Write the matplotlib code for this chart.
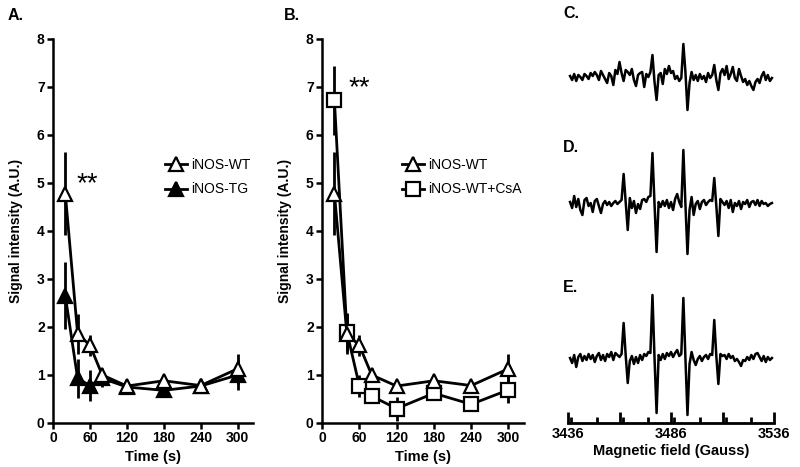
import numpy as np
import matplotlib
matplotlib.use("Agg")
import matplotlib.pyplot as plt
from matplotlib.ticker import MultipleLocator

plt.rcParams['font.family'] = ['Liberation Sans', 'DejaVu Sans']
plt.rcParams['font.weight'] = 'bold'
plt.rcParams['axes.linewidth'] = 1.8

# time points (s)
time = [20, 40, 60, 80, 120, 180, 240, 300]

# panel A / B
wt_mean = [4.78, 1.86, 1.62, 1.0, 0.77, 0.88, 0.78, 1.13]
wt_err = [0.87, 0.42, 0.22, 0.15, 0.12, 0.1, 0.1, 0.31]
tg_mean = [2.65, 0.93, 0.78, 0.93, 0.75, 0.68, 0.77, 1.0]
tg_err = [0.7, 0.4, 0.33, 0.18, 0.15, 0.08, 0.12, 0.32]
csa_mean = [6.72, 1.9, 0.78, 0.56, 0.3, 0.62, 0.39, 0.69]
csa_err = [0.72, 0.4, 0.23, 0.12, 0.25, 0.1, 0.1, 0.28]

# EPR spectra, field 3437..3535 G in 1 G steps, amplitude in arbitrary units
field = np.arange(3437, 3536)
spec_c = [1, -3, 3, -4, 2, 0, -3, 3, 1, -2, 4, 1, 5, 2, -3, 6, 2, -2, -6, 4,
          1, -8, 7, 3, 15, 4, -4, 7, 5, 2, 8, -3, -9, 2, 4, 5, -10, 3, 0, 5,
          22, -5, -23, 2, 4, -7, 8, 3, 11, 4, 6, -2, 1, -4, -1, 33, 5, -33, -6, 5,
          -3, 2, -4, 3, -2, 1, -5, 4, -1, 2, 12, -3, -13, 4, 8, 2, 11, -2, 3, 10,
          -1, -4, 8, 1, -5, -2, -8, -4, -9, -13, -5, -2, -6, 1, 5, -3, 2, -4, -1]
spec_d = [2, -4, 8, -3, 5, -6, -11, 4, 6, -2, 1, -8, 3, 5, -2, -9, 0, 3, -1, 2,
          -2, 1, 3, 0, 2, 4, 30, 2, -26, 6, -4, 3, -9, 0, -5, 4, 5, 2, 7, 8,
          51, 0, -48, 2, -3, 3, -2, 4, -4, 2, -6, 5, 10, 2, -3, 54, 0, -50, -6, 7,
          -11, 0, 3, -5, 2, 4, -1, 2, 4, 3, 26, -2, -32, 5, 2, -1, 3, -4, 4, -8,
          1, -2, 3, -5, 2, 0, 4, -3, 2, 3, -1, 4, -2, 3, 0, 1, -2, 0, 1]
spec_e = [0, -5, 3, -9, 1, 4, -3, 2, -2, 4, -1, 3, -4, 2, 5, -2, 3, -3, 4, 1,
          6, -2, 5, 3, 1, 4, 35, 3, -25, -3, 2, -6, 1, -5, 3, -2, 4, 2, 6, 5,
          63, 0, -55, 3, -2, 4, -1, 5, 2, 6, 1, 5, 8, 2, 4, 60, 0, -57, -6, 6,
          -2, -7, -1, 2, -3, 1, 3, -1, 4, 3, 38, 2, -26, 4, 2, 3, -1, 4, 0, 2,
          -3, -1, -4, -8, -2, -3, 1, -2, 3, -1, 4, 5, 1, -3, 2, -4, 1, -2, 0]
spec_offsets = [346, 219, 65]

fig = plt.figure(figsize=(8.0, 4.67), dpi=100)
W, H = 800.0, 467.0


def time_axes(left_px, right_px):
    ax = fig.add_axes([left_px / W, 1 - 423 / H, (right_px - left_px) / W, 384 / H])
    ax.set_xlim(0, 325)
    ax.set_ylim(0, 8)
    ax.set_xticks([0, 60, 120, 180, 240, 300])
    ax.yaxis.set_major_locator(MultipleLocator(1))
    ax.spines['top'].set_visible(False)
    ax.spines['right'].set_visible(False)
    ax.tick_params(direction='out', length=4, width=1.8, labelsize=10, pad=2)
    for lbl in ax.get_xticklabels() + ax.get_yticklabels():
        lbl.set_fontweight('bold')
    ax.set_xlabel('Time (s)', fontsize=10.5, fontweight='bold', labelpad=3)
    ax.set_ylabel('Signal intensity (A.U.)', fontsize=10, fontweight='bold', labelpad=10)
    return ax


def series(ax, mean, err, marker, fc, label, ms):
    ax.errorbar(time, mean, yerr=err, color='black', lw=2, elinewidth=2,
                capsize=0, marker=marker, markersize=ms, markerfacecolor=fc,
                markeredgecolor='black', markeredgewidth=1.6, label=label)


# panel A
axA = time_axes(53, 253)
series(axA, tg_mean, tg_err, '^', 'black', 'iNOS-TG', 10)
series(axA, wt_mean, wt_err, '^', 'white', 'iNOS-WT', 10)
h, l = axA.get_legend_handles_labels()
axA.legend([h[1], h[0]], [l[1], l[0]], loc='center left', bbox_to_anchor=(0.525, 0.64),
           frameon=False, handlelength=1.6, handletextpad=0.3, labelspacing=0.75,
           borderpad=0, prop={'size': 10, 'weight': 'normal'})
axA.text(39, 4.98, '**', fontsize=20, va='center', ha='left', fontweight='normal')

# panel B
axB = time_axes(322, 524)
series(axB, csa_mean, csa_err, 's', 'white', 'iNOS-WT+CsA', 9.5)
series(axB, wt_mean, wt_err, '^', 'white', 'iNOS-WT', 10)
h, l = axB.get_legend_handles_labels()
axB.legend([h[1], h[0]], [l[1], l[0]], loc='center left', bbox_to_anchor=(0.36, 0.64),
           frameon=False, handlelength=1.6, handletextpad=0.3, labelspacing=0.75,
           borderpad=0, prop={'size': 10, 'weight': 'normal'})
axB.text(43, 6.98, '**', fontsize=20, va='center', ha='left', fontweight='normal')

# panels C-E (spectra)
axS = fig.add_axes([568 / W, 1 - 423 / H, 206 / W, 385 / H])
for spec, off in zip([spec_c, spec_d, spec_e], spec_offsets):
    axS.plot(field, np.array(spec) + off, color='black', lw=1.8)
axS.set_xlim(3436, 3536)
axS.set_ylim(0, 385)
for s in ['top', 'right', 'left']:
    axS.spines[s].set_visible(False)
axS.spines['bottom'].set_linewidth(2)
axS.set_yticks([])
axS.set_xticks([3436, 3461, 3486, 3511, 3536])
axS.set_xticklabels(['3436', '', '3486', '', '3536'])
axS.xaxis.set_minor_locator(MultipleLocator(12.5))
axS.tick_params(axis='x', which='major', direction='in', length=8, width=2, labelsize=10.5, pad=3)
axS.tick_params(axis='x', which='minor', direction='in', length=4, width=2)
for lbl in axS.get_xticklabels():
    lbl.set_fontweight('bold')
axS.set_xlabel('Magnetic field (Gauss)', fontsize=10.5, fontweight='bold', labelpad=2)

# panel letters
for txt, x, y in [('A.', 8, 15), ('B.', 284, 15), ('C.', 563, 14), ('D.', 563, 148), ('E.', 563, 288)]:
    fig.text(x / W, 1 - y / H, txt, fontsize=11.5, fontweight='bold', ha='left', va='center')

fig.savefig('out.png', dpi=100)
